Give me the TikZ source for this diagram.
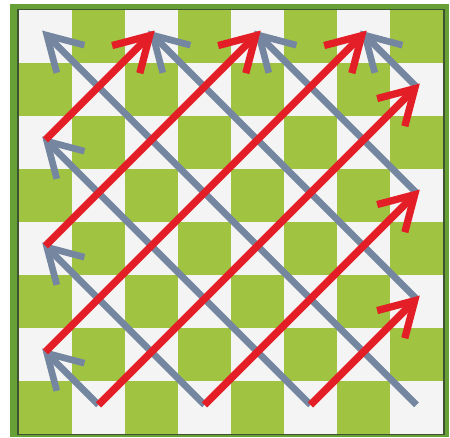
\documentclass[tikz,border=0pt]{standalone}
\usepackage{tikz}
\usetikzlibrary{arrows.meta}
\definecolor{boardgreen}{RGB}{160,195,65}
\definecolor{boardwhite}{RGB}{244,244,244}
\definecolor{framegreen}{RGB}{104,160,56}
\definecolor{framedark}{RGB}{62,84,48}
\definecolor{zigred}{RGB}{228,30,38}
\definecolor{ziggray}{RGB}{117,135,160}

\begin{document}
\begin{tikzpicture}[
    uparrow/.style={zigred, line width=3.9pt, shorten >=-2.5pt, -{Straight Barb[length=18pt,width=21pt]}},
    backarrow/.style={ziggray, line width=3.6pt, shorten >=-2.5pt, -{Straight Barb[length=18pt,width=21pt]}}]
  \useasboundingbox (-0.358,-0.057) rectangle (8.132,8.189);
  % frame
  \fill[framegreen] (-0.17,-0.057) rectangle (8.113,8.113);
  \fill[framedark] (-0.035,-0.02) rectangle (8.035,8.02);
  % board
  \fill[boardwhite] (0,0) rectangle (8,8);
  \foreach \i in {0,...,7}
    \foreach \j in {0,...,7} {
      \pgfmathtruncatemacro\k{mod(\i+\j,2)}
      \ifnum\k=0 \fill[boardgreen] (\i,\j) rectangle ++(1,1); \fi
    }
  % turning points
  \coordinate (b1) at (1.5,0.55);
  \coordinate (b2) at (3.5,0.55);
  \coordinate (b3) at (5.5,0.55);
  \coordinate (b4) at (7.5,0.55);
  \coordinate (l1) at (0.5,1.55);
  \coordinate (l2) at (0.5,3.55);
  \coordinate (l3) at (0.5,5.55);
  \coordinate (l4) at (0.5,7.55);
  \coordinate (t1) at (2.5,7.55);
  \coordinate (t2) at (4.5,7.55);
  \coordinate (t3) at (6.5,7.55);
  \coordinate (r1) at (7.5,2.55);
  \coordinate (r2) at (7.5,4.55);
  \coordinate (r3) at (7.5,6.55);
  % gray: back up to the left
  \draw[backarrow] (b1) -- (l1);
  \draw[backarrow] (b2) -- (l2);
  \draw[backarrow] (b3) -- (l3);
  \draw[backarrow] (b4) -- (l4);
  \draw[backarrow] (r1) -- (t1);
  \draw[backarrow] (r2) -- (t2);
  \draw[backarrow] (r3) -- (t3);
  % red: up to the right
  \draw[uparrow] (l1) -- (t3);
  \draw[uparrow] (l2) -- (t2);
  \draw[uparrow] (l3) -- (t1);
  \draw[uparrow] (b1) -- (r3);
  \draw[uparrow] (b2) -- (r2);
  \draw[uparrow] (b3) -- (r1);
\end{tikzpicture}
\end{document}
